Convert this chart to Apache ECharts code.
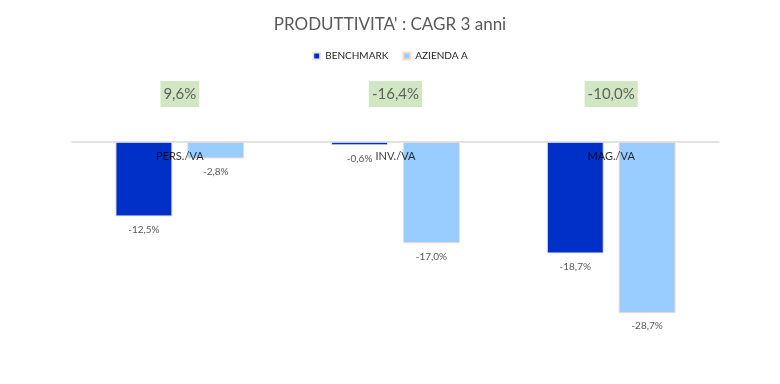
<!DOCTYPE html>
<html>
<head>
<meta charset="utf-8">
<script src="https://cdn.jsdelivr.net/npm/echarts@6/dist/echarts.min.js"></script>
<style>html,body{margin:0;padding:0;background:#fff}#c{width:780px;height:384px}</style>
</head>
<body>
<div id="c"></div>
<script>
var categories = ['PERS./VA', 'INV./VA', 'MAG./VA'];
var benchmark = [-12.5, -0.6, -18.7];
var aziendaA = [-2.8, -17.0, -28.7];
var gapLabels = [9.6, -16.4, -10.0];
var seriesNames = ['BENCHMARK', 'AZIENDA A'];

function pct(v) { return v.toFixed(1).replace('.', ',') + '%'; }
var FONT = 'Lato';
var chart = echarts.init(document.getElementById('c'));
var labelY = 8;
chart.setOption({
  animation: false,
  textStyle: { fontFamily: FONT },
  title: {
    text: "PRODUTTIVITA' : CAGR 3 anni",
    left: 'center', top: 11,
    textStyle: { fontFamily: FONT, fontSize: 17, fontWeight: 'normal', color: '#595959' }
  },
  legend: {
    data: seriesNames,
    top: 46, left: 'center',
    icon: 'rect', itemWidth: 7, itemHeight: 7, itemGap: 14,
    textStyle: { fontFamily: FONT, fontSize: 10, color: '#262626' }
  },
  grid: { left: 72, right: 61, top: 82, bottom: 63 },
  xAxis: {
    type: 'category', data: categories,
    axisLine: { onZero: true, lineStyle: { color: '#d9d9d9', width: 1.5 } },
    axisTick: { show: false },
    axisLabel: { show: false }
  },
  yAxis: {
    type: 'value', min: -30, max: 10,
    show: false, splitLine: { show: false }
  },
  series: [
    {
      name: seriesNames[0], type: 'bar', data: benchmark,
      barWidth: 57, barGap: '26%',
      itemStyle: { color: '#0030c8', borderColor: '#e8e8e8', borderWidth: 1 },
      label: { show: true, position: 'bottom', distance: 8, color: '#595959', fontSize: 10, fontFamily: FONT,
        formatter: function (p) { return pct(p.value); } }
    },
    {
      name: seriesNames[1], type: 'bar', data: aziendaA,
      barWidth: 57,
      itemStyle: { color: '#99ccff', borderColor: '#f8dccb', borderWidth: 1 },
      label: { show: true, position: 'bottom', distance: 8, color: '#595959', fontSize: 10, fontFamily: FONT,
        formatter: function (p) { return pct(p.value); } }
    },
    {
      name: 'cat', type: 'scatter', z: 5,
      data: categories.map(function (c) { return [c, 0]; }),
      symbolSize: 1, itemStyle: { color: 'rgba(0,0,0,0)' },
      label: {
        show: true, position: 'bottom', distance: 9,
        color: '#000', fontSize: 11, fontFamily: FONT,
        formatter: function (p) { return categories[p.dataIndex]; }
      },
      tooltip: { show: false }
    },
    {
      name: 'gap', type: 'scatter',
      data: gapLabels.map(function (v, i) { return [categories[i], labelY]; }),
      symbolSize: 1, itemStyle: { color: 'rgba(0,0,0,0)' },
      label: {
        show: true, position: 'inside',
        backgroundColor: '#c5e0b4', padding: [6, 3, 5, 3],
        color: '#404040', fontSize: 15, fontFamily: FONT,
        formatter: function (p) { return pct(gapLabels[p.dataIndex]); }
      },
      tooltip: { show: false }
    }
  ]
});
</script>
</body>
</html>
